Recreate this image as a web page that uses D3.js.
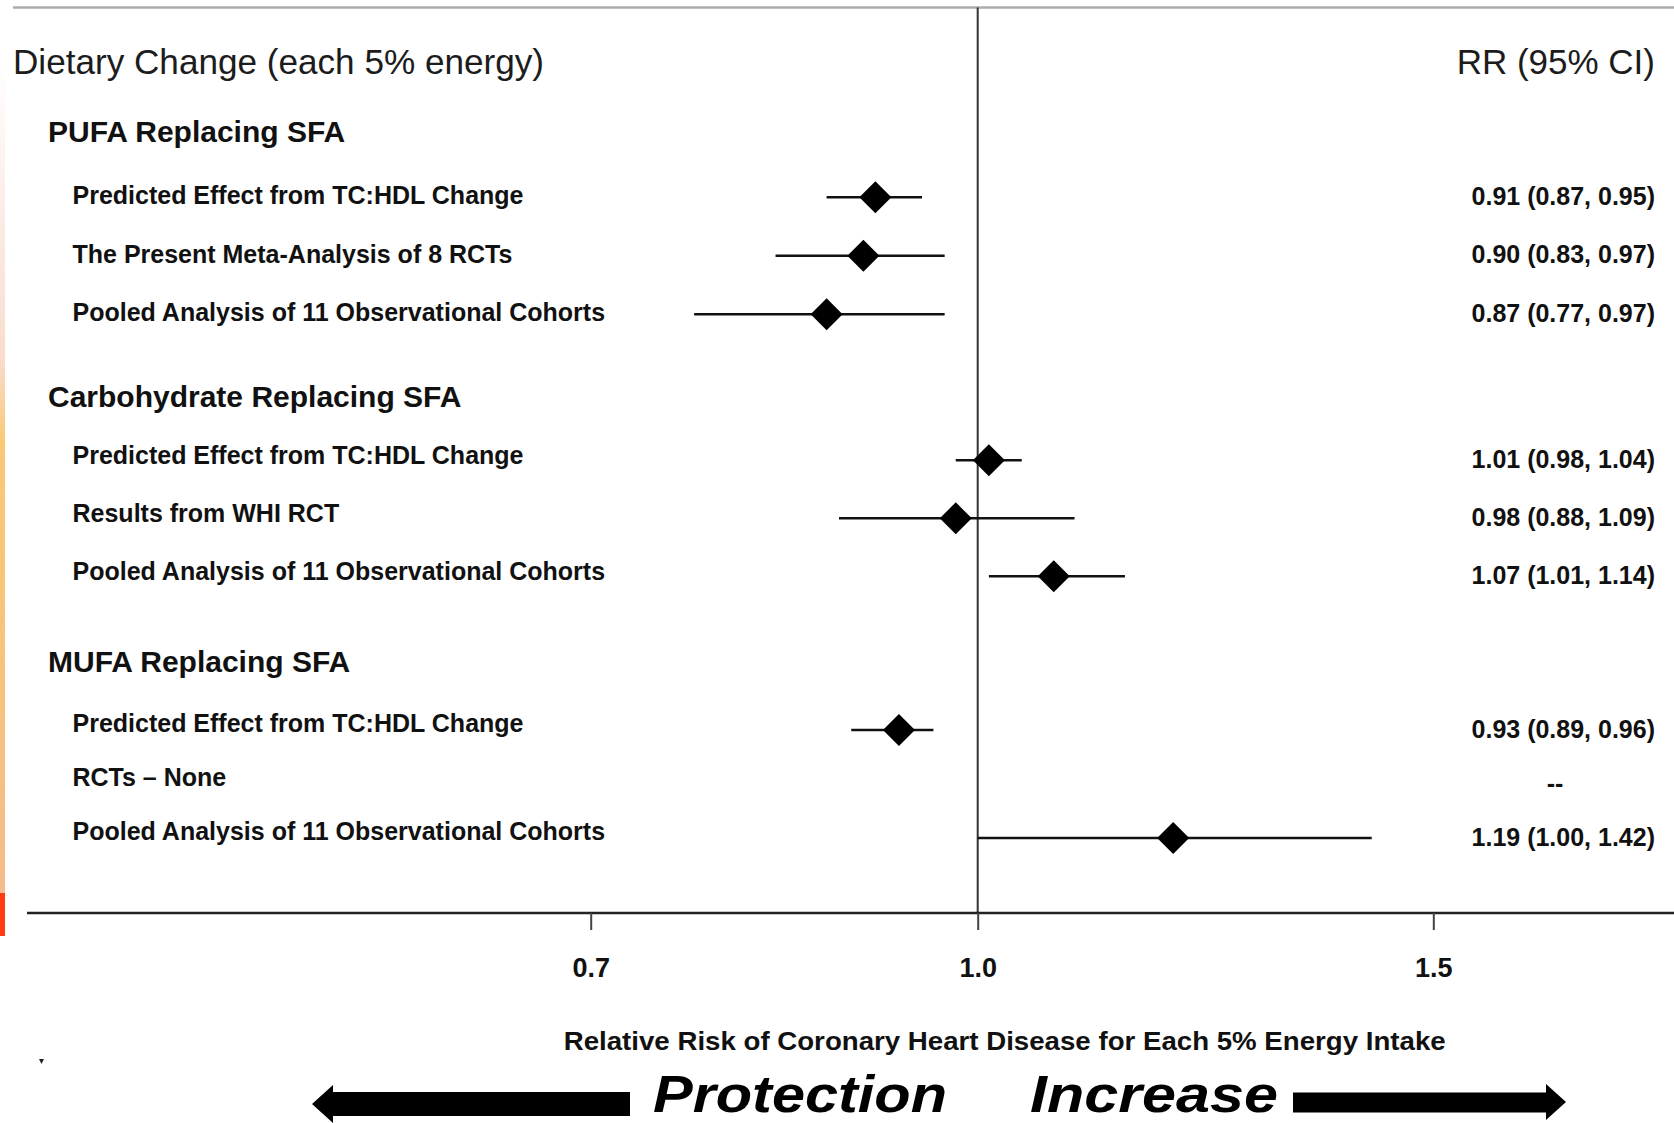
<!DOCTYPE html>
<html>
<head>
<meta charset="utf-8">
<script src="https://cdn.jsdelivr.net/npm/d3@7"></script>
<style>
  html, body { margin: 0; padding: 0; background: #fff; }
  svg { display: block; }
  text { font-family: "Liberation Sans", Arial, Helvetica, sans-serif; }
</style>
</head>
<body>
<svg id="chart" width="1674" height="1123"></svg>
<script>
// ---- data -------------------------------------------------------------
const groups = ["PUFA Replacing SFA", "Carbohydrate Replacing SFA", "MUFA Replacing SFA"];
const studyLabels = [
  ["Predicted Effect from TC:HDL Change", "The Present Meta-Analysis of 8 RCTs", "Pooled Analysis of 11 Observational Cohorts"],
  ["Predicted Effect from TC:HDL Change", "Results from WHI RCT", "Pooled Analysis of 11 Observational Cohorts"],
  ["Predicted Effect from TC:HDL Change", "RCTs \u2013 None", "Pooled Analysis of 11 Observational Cohorts"]
];
const rr     = [[0.91, 0.90, 0.87], [1.01, 0.98, 1.07], [0.93, null, 1.19]];
const ciLow  = [[0.87, 0.83, 0.77], [0.98, 0.88, 1.01], [0.89, null, 1.00]];
const ciHigh = [[0.95, 0.97, 0.97], [1.04, 1.09, 1.14], [0.96, null, 1.42]];
const tickValues = [0.7, 1.0, 1.5];
const columnTitles = ["Dietary Change (each 5% energy)", "RR (95% CI)"];
const axisTitle = "Relative Risk of Coronary Heart Disease for Each 5% Energy Intake";
const directionLabels = ["Protection", "Increase"];

// ---- layout -----------------------------------------------------------
const W = 1674, H = 1123;
const axisY = 913;
const topRuleY = 7.5;
const labelX = 72.5, headerX = 48, valueRight = 1655;
const firstHeaderY = 131.7, groupStep = 264.65;
const firstRowOffset = [65.5, 64, 69];
const rowStep = [58.5, 58, 54];
const labelShift = [-2, -5, -7];

const svg = d3.select("#chart");

// Log-scaled relative risk axis
const x = d3.scaleLog().domain(tickValues).range([590.7, 977.7, 1433.3]);

// Flatten rows with their vertical positions
const headerY = gi => firstHeaderY + gi * groupStep;
const rows = [];
groups.forEach((g, gi) => {
  studyLabels[gi].forEach((lab, ri) => {
    rows.push({
      g: gi, label: lab, rr: rr[gi][ri], lo: ciLow[gi][ri], hi: ciHigh[gi][ri],
      y: headerY(gi) + firstRowOffset[gi] + ri * rowStep[gi]
    });
  });
});

// Slide edge strip on the left
const defs = svg.append("defs");
const grad = defs.append("linearGradient").attr("id", "edge")
  .attr("x1", 0).attr("y1", 0).attr("x2", 0).attr("y2", 1);
[[0, "#ffffff"], [0.18, "#fcece6"], [0.36, "#f9dccd"], [0.46, "#f9c873"], [0.75, "#f8c27c"], [1, "#f6bb8c"]]
  .forEach(([o, c]) => grad.append("stop").attr("offset", o).attr("stop-color", c));
svg.append("rect").attr("x", 0).attr("y", 60).attr("width", 5).attr("height", 833).attr("fill", "url(#edge)");
svg.append("rect").attr("x", 0).attr("y", 893).attr("width", 5).attr("height", 43).attr("fill", "#ff3b12");
svg.append("path").attr("d", "M39,1059 L44,1059 L41.5,1064 Z").attr("fill", "#222");

// Top rule
svg.append("line").attr("x1", 13).attr("x2", W).attr("y1", topRuleY).attr("y2", topRuleY)
  .attr("stroke", "#acacac").attr("stroke-width", 2.5);

// Reference line at RR = 1
svg.append("line").attr("x1", x(1)).attr("x2", x(1)).attr("y1", topRuleY).attr("y2", axisY)
  .attr("stroke", "#333").attr("stroke-width", 2);

// Column titles
svg.append("text").attr("x", 13).attr("y", 74).attr("font-size", 35).attr("fill", "#1c1c1c")
  .attr("textLength", 531).attr("lengthAdjust", "spacingAndGlyphs")
  .text(columnTitles[0]);
svg.append("text").attr("x", valueRight).attr("y", 74).attr("font-size", 35).attr("fill", "#1c1c1c")
  .attr("text-anchor", "end").text(columnTitles[1]);

// Group headers
svg.selectAll("text.group").data(groups).join("text").attr("class", "group")
  .attr("x", headerX).attr("y", (d, i) => headerY(i) + 10.5)
  .attr("font-size", 30).attr("font-weight", "bold").attr("fill", "#111")
  .text(d => d);

// Row labels
svg.selectAll("text.row").data(rows).join("text").attr("class", "row")
  .attr("x", labelX).attr("y", d => d.y + labelShift[d.g] + 9)
  .attr("font-size", 25).attr("font-weight", "bold").attr("fill", "#111")
  .text(d => d.label);

// RR (95% CI) column
const f2 = d3.format(".2f");
svg.selectAll("text.val").data(rows).join("text").attr("class", "val")
  .attr("x", d => d.rr == null ? valueRight - 100 : valueRight)
  .attr("y", d => d.y + 7.5)
  .attr("text-anchor", d => d.rr == null ? "middle" : "end")
  .attr("font-size", 25).attr("font-weight", "bold").attr("fill", "#111")
  .text(d => d.rr == null ? "--" : `${f2(d.rr)} (${f2(d.lo)}, ${f2(d.hi)})`);

// Confidence intervals and point estimates
const est = rows.filter(d => d.rr != null);
svg.selectAll("line.ci").data(est).join("line").attr("class", "ci")
  .attr("x1", d => x(d.lo)).attr("x2", d => x(d.hi))
  .attr("y1", d => d.y).attr("y2", d => d.y)
  .attr("stroke", "#111").attr("stroke-width", 2.5);
const diamond = d3.symbol().type(d3.symbolSquare).size(512);
svg.selectAll("path.pt").data(est).join("path").attr("class", "pt")
  .attr("d", diamond)
  .attr("transform", d => `translate(${x(d.rr)},${d.y}) rotate(45)`)
  .attr("fill", "#000");

// X axis
svg.append("line").attr("x1", 27).attr("x2", W).attr("y1", axisY).attr("y2", axisY)
  .attr("stroke", "#222").attr("stroke-width", 2.5);
const axis = svg.append("g").attr("transform", `translate(0,${axisY})`)
  .call(d3.axisBottom(x).tickValues(tickValues).tickFormat(d3.format(".1f"))
    .tickSize(17).tickPadding(28));
axis.select(".domain").remove();
axis.selectAll(".tick line").attr("stroke", "#444").attr("stroke-width", 2);
axis.selectAll(".tick text").attr("font-size", 27).attr("font-weight", "bold").attr("fill", "#111")
  .attr("font-family", "'Liberation Sans', Arial, sans-serif");

svg.append("text").attr("x", 563.7).attr("y", 1050).attr("font-size", 26).attr("font-weight", "bold")
  .attr("fill", "#111").attr("textLength", 882).attr("lengthAdjust", "spacingAndGlyphs")
  .text(axisTitle);

// Direction arrows and labels
svg.append("path")
  .attr("d", "M312,1104 L333,1085 L333,1092 L630,1092 L630,1116 L333,1116 L333,1123 Z")
  .attr("fill", "#000");
svg.append("path")
  .attr("d", "M1293,1092.5 L1546,1092.5 L1546,1084 L1566,1102 L1546,1120 L1546,1112.5 L1293,1112.5 Z")
  .attr("fill", "#000");
svg.append("text").attr("x", 653).attr("y", 1112).attr("font-size", 52)
  .attr("font-weight", "bold").attr("font-style", "italic").attr("fill", "#000")
  .attr("textLength", 294).attr("lengthAdjust", "spacingAndGlyphs")
  .text(directionLabels[0]);
svg.append("text").attr("x", 1030).attr("y", 1112).attr("font-size", 52)
  .attr("font-weight", "bold").attr("font-style", "italic").attr("fill", "#000")
  .attr("textLength", 248).attr("lengthAdjust", "spacingAndGlyphs")
  .text(directionLabels[1]);
</script>
</body>
</html>
